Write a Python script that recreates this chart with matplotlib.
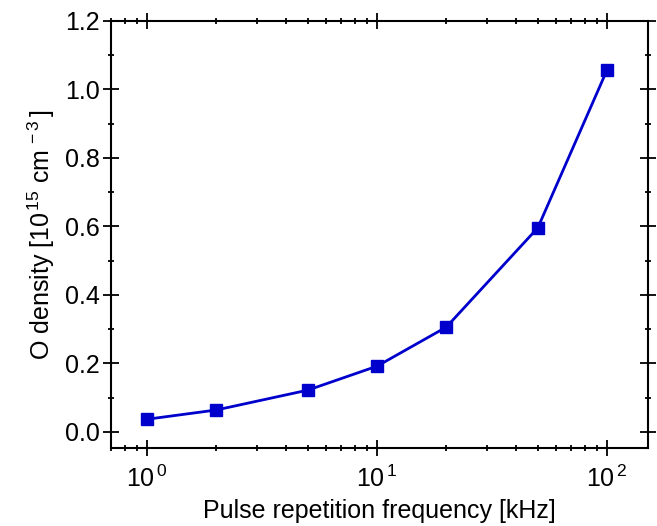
import matplotlib
matplotlib.use("Agg")
import matplotlib.pyplot as plt
from matplotlib.ticker import LogLocator, MultipleLocator, NullFormatter

freq_khz = [1, 2, 5, 10, 20, 50, 100]
o_density = [0.037, 0.064, 0.122, 0.192, 0.306, 0.596, 1.057]

plt.rcParams['font.family'] = ['Liberation Sans', 'DejaVu Sans']
plt.rcParams['mathtext.fontset'] = 'custom'
plt.rcParams['mathtext.rm'] = 'Liberation Sans'
plt.rcParams['mathtext.it'] = 'Liberation Sans'

fig = plt.figure(figsize=(6.57, 5.26), dpi=100)
ax = fig.add_axes([111/657, 1-448/526, (648-111)/657, (448-21)/526])
ax.plot(freq_khz, o_density, color='#0000CC', lw=2, marker='s', ms=9)
ax.set_xscale('log')
ax.set_xlim(0.697, 150.7)
ax.set_ylim(-0.047, 1.2)
ax.xaxis.set_major_locator(LogLocator(base=10, numticks=10))
ax.xaxis.set_minor_locator(LogLocator(base=10, subs=range(2, 10), numticks=20))
ax.xaxis.set_minor_formatter(NullFormatter())
ax.xaxis.set_major_formatter(plt.FuncFormatter(lambda v, p: r"$10^{\,%d}$" % round(__import__('math').log10(v))))
ax.yaxis.set_major_locator(MultipleLocator(0.2))
ax.yaxis.set_minor_locator(MultipleLocator(0.1))
ax.yaxis.set_major_formatter(plt.FuncFormatter(lambda v, p: f"{v:.1f}"))
ax.tick_params(which='both', direction='inout', top=True, right=True, labelsize=18, width=1.3)
ax.tick_params(which='major', length=12)
ax.tick_params(which='minor', length=5)
ax.tick_params(axis='y', pad=2)
ax.tick_params(axis='x', pad=7)
for s in ax.spines.values():
    s.set_linewidth(1.5)
ax.set_xlabel('Pulse repetition frequency [kHz]', fontsize=18, labelpad=5)
ax.set_ylabel(r'O density [10$^{\,15}$ cm$^{\,-3}\,$]', fontsize=18, labelpad=6)
fig.savefig('out.png', dpi=100)
